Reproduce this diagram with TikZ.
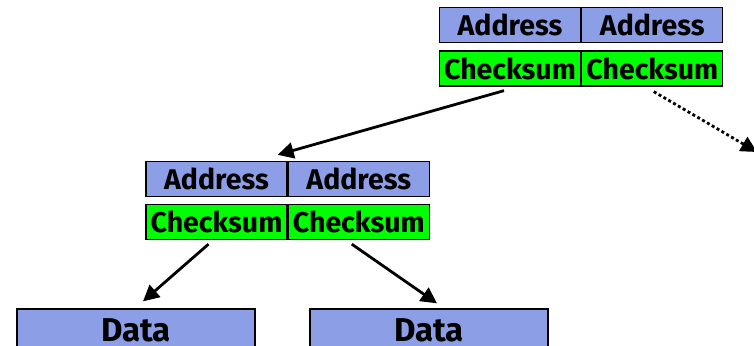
\documentclass[tikz,border=0pt]{standalone}
\usepackage{fontspec}
\setsansfont{Fira Sans}
\usetikzlibrary{positioning,arrows.meta}
\definecolor{addrblue}{HTML}{8B9EE6}
\definecolor{sumgreen}{HTML}{00FF00}
\tikzset{
  cell/.style={draw=black, line width=1.3pt, minimum width=141pt, minimum height=35pt, inner sep=0pt,
    font=\sffamily\bfseries\fontsize{28.5}{28.5}\selectfont},
  addrCell/.style={cell, fill=addrblue},
  sumCell/.style={cell, fill=sumgreen},
  dataCell/.style={cell, fill=addrblue, minimum width=238pt, minimum height=42pt,
    font=\sffamily\bfseries\fontsize{33}{33}\selectfont},
  link/.style={draw=black, line width=2.8pt, -{Triangle[length=16pt, width=16pt]}},
  dotLink/.style={link, dash pattern=on 3pt off 2.6pt},
}
\begin{document}
\begin{tikzpicture}[x=1pt, y=-1pt]
  \useasboundingbox (0,0) rectangle (754,345);
  \clip (0,0) rectangle (754,345);

  % top node
  \node[addrCell] (taddrL) at (510,25) {Address};
  \node[addrCell, right=0pt of taddrL] (taddrR) {Address};
  \node[sumCell] (tsumL) at (510,68.5) {Checksum};
  \node[sumCell, right=0pt of tsumL] (tsumR) {Checksum};

  % middle node
  \node[addrCell] (maddrL) at (216.5,179) {Address};
  \node[addrCell, right=0pt of maddrL] (maddrR) {Address};
  \node[sumCell] (msumL) at (216.5,222) {Checksum};
  \node[sumCell, right=0pt of msumL] (msumR) {Checksum};

  % leaves
  \node[dataCell] (dataL) at (136,330) {Data};
  \node[dataCell] (dataR) at (429,330) {Data};
  \coordinate (offR) at (757,152);

  \draw[link] ([xshift=-6pt, yshift=-4pt]tsumL.south) -- ([xshift=-10pt, yshift=6pt]maddrL.north east);
  \draw[dotLink] ([xshift=1.5pt, yshift=-5pt]tsumR.south) -- (offR);
  \draw[link] ([xshift=-8pt, yshift=-4pt]msumL.south) -- ([xshift=7pt, yshift=7pt]dataL.north);
  \draw[link] ([xshift=-7pt, yshift=-4pt]msumR.south) -- ([xshift=8pt, yshift=5pt]dataR.north);
\end{tikzpicture}
\end{document}
